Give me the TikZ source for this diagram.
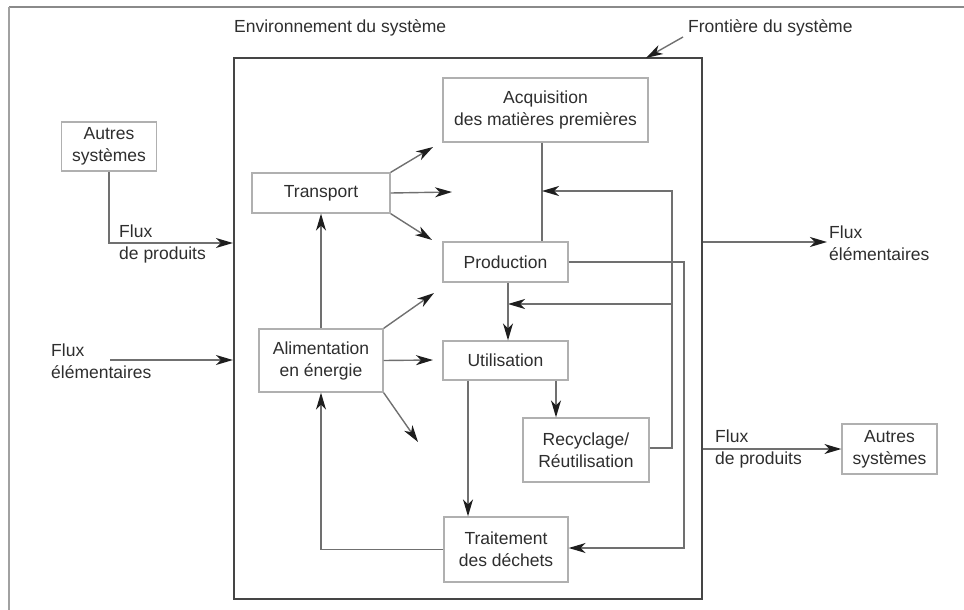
\documentclass[tikz,border=0pt]{standalone}
\usepackage{fontspec}
\setmainfont{Liberation Sans}
\usetikzlibrary{arrows.meta}
\definecolor{txtc}{HTML}{2E2E2E}
\definecolor{boxc}{HTML}{B0B0B0}
\definecolor{linec}{HTML}{707070}
\definecolor{arrc}{HTML}{1E1E1E}
\definecolor{mainc}{HTML}{454545}
\definecolor{framec}{HTML}{8A8A8A}
\begin{document}
\begin{tikzpicture}[x=1pt,y=-1pt,
  txtfont/.style={font=\fontsize{17.5}{22}\selectfont},
  box/.style={draw=boxc, line width=1.3pt, fill=white, text=txtc, align=center, inner sep=0pt, txtfont},
  lab/.style={text=txtc, align=left, inner sep=0pt, anchor=west, txtfont},
  con/.style={draw=linec, line width=1.4pt},
  arr/.style={con, -{Stealth[length=17pt,width=10pt,inset=5pt,color=arrc]}}]
\useasboundingbox (0,0) rectangle (964,610);
% screenshot frame
\draw[framec, line width=2.5pt] (9,7) -- (964,7);
\draw[framec!80, line width=1.5pt] (9,7) -- (9,610);
% system boundary
\node[draw=mainc, line width=2.2pt, minimum width=468pt, minimum height=541pt, inner sep=0pt] (sys) at (468,328.5) {};
% labels
\node[lab] (env) at (234,28) {Environnement du système};
\node[lab] (front) at (688,28) {Frontière du système};
\coordinate (fa) at (683,37);
\coordinate (fb) at (646,58);
\draw[arr] (fa) -- (fb);
% boxes
\node[box, minimum width=205pt, minimum height=64pt] (acq) at (545.5,110) {Acquisition\\des matières premières};
\node[box, minimum width=138pt, minimum height=40pt] (tra) at (321,193) {Transport};
\node[box, minimum width=125pt, minimum height=40pt] (prod) at (505.5,262) {Production};
\node[box, minimum width=124pt, minimum height=63pt] (alim) at (321,360.5) {Alimentation\\en énergie};
\node[box, minimum width=125pt, minimum height=39pt] (util) at (505.5,360.5) {Utilisation};
\node[box, minimum width=126pt, minimum height=64pt] (recy) at (586,450) {Recyclage/\\Réutilisation};
\node[box, minimum width=124pt, minimum height=65pt] (trait) at (506,549.5) {Traitement\\des déchets};
\node[box, minimum width=95pt, minimum height=49pt] (autL) at (109,146.5) {Autres\\systèmes};
\node[box, minimum width=95pt, minimum height=50pt] (autR) at (889.5,449) {Autres\\systèmes};
% outside flows
\coordinate (pl) at (109,243);
\draw[arr] (autL.south) |- (sys.west |- pl);
\node[lab] (lpl) at (119,244) {Flux\\de produits};
\coordinate (fel) at (110,360);
\draw[arr] (fel) -- (sys.west |- fel);
\node[lab] (lfel) at (51,361) {Flux\\élémentaires};
\coordinate (fer) at (827,242);
\draw[arr] (sys.east |- fer) -- (fer);
\node[lab] (lfer) at (829,243.5) {Flux\\élémentaires};
\draw[arr] (sys.east |- autR.west) -- (autR.west);
\node[lab] (lpr) at (715,449) {Flux\\de produits};
% transport arrows
\coordinate (t1) at (433,147);
\coordinate (t2) at (452,192);
\coordinate (t3) at (432,240);
\draw[arr] (tra.north east) -- (t1);
\draw[arr] (tra.east) -- (t2);
\draw[arr] (tra.south east) -- (t3);
% energy arrows
\coordinate (a1) at (434,293);
\coordinate (a2) at (433,360);
\coordinate (a3) at (418,442);
\draw[arr] (alim.north east) -- (a1);
\draw[arr] (alim.east) -- (a2);
\draw[arr] (alim.south east) -- (a3);
\draw[arr] (alim.north) -- (tra.south);
% waste treatment back to energy
\draw[arr] (trait.west) -| (alim.south);
% acquisition to production
\coordinate (ax) at (542,0);
\draw[con] (acq.south -| ax) -- (prod.north -| ax);
% recycling loop
\coordinate (r1) at (672,448);
\coordinate (r2) at (672,191);
\coordinate (r3) at (542,191);
\coordinate (r4) at (672,304);
\coordinate (r5) at (508,304);
\draw[arr] (recy.east |- r1) -- (r1) -- (r2) -- (r3);
\draw[arr] (r4) -- (r5);
% production to utilisation
\coordinate (px) at (508,0);
\draw[arr] (prod.south -| px) -- (util.north -| px);
% production to waste
\coordinate (w1) at (684,262);
\coordinate (w2) at (684,548);
\draw[arr] (prod.east) -- (w1) -- (w2) -- (trait.east |- w2);
% utilisation to recycling and waste
\coordinate (ux) at (556,0);
\draw[arr] (util.south -| ux) -- (recy.north -| ux);
\coordinate (vx) at (468,0);
\draw[arr] (util.south -| vx) -- (trait.north -| vx);
\end{tikzpicture}
\end{document}
